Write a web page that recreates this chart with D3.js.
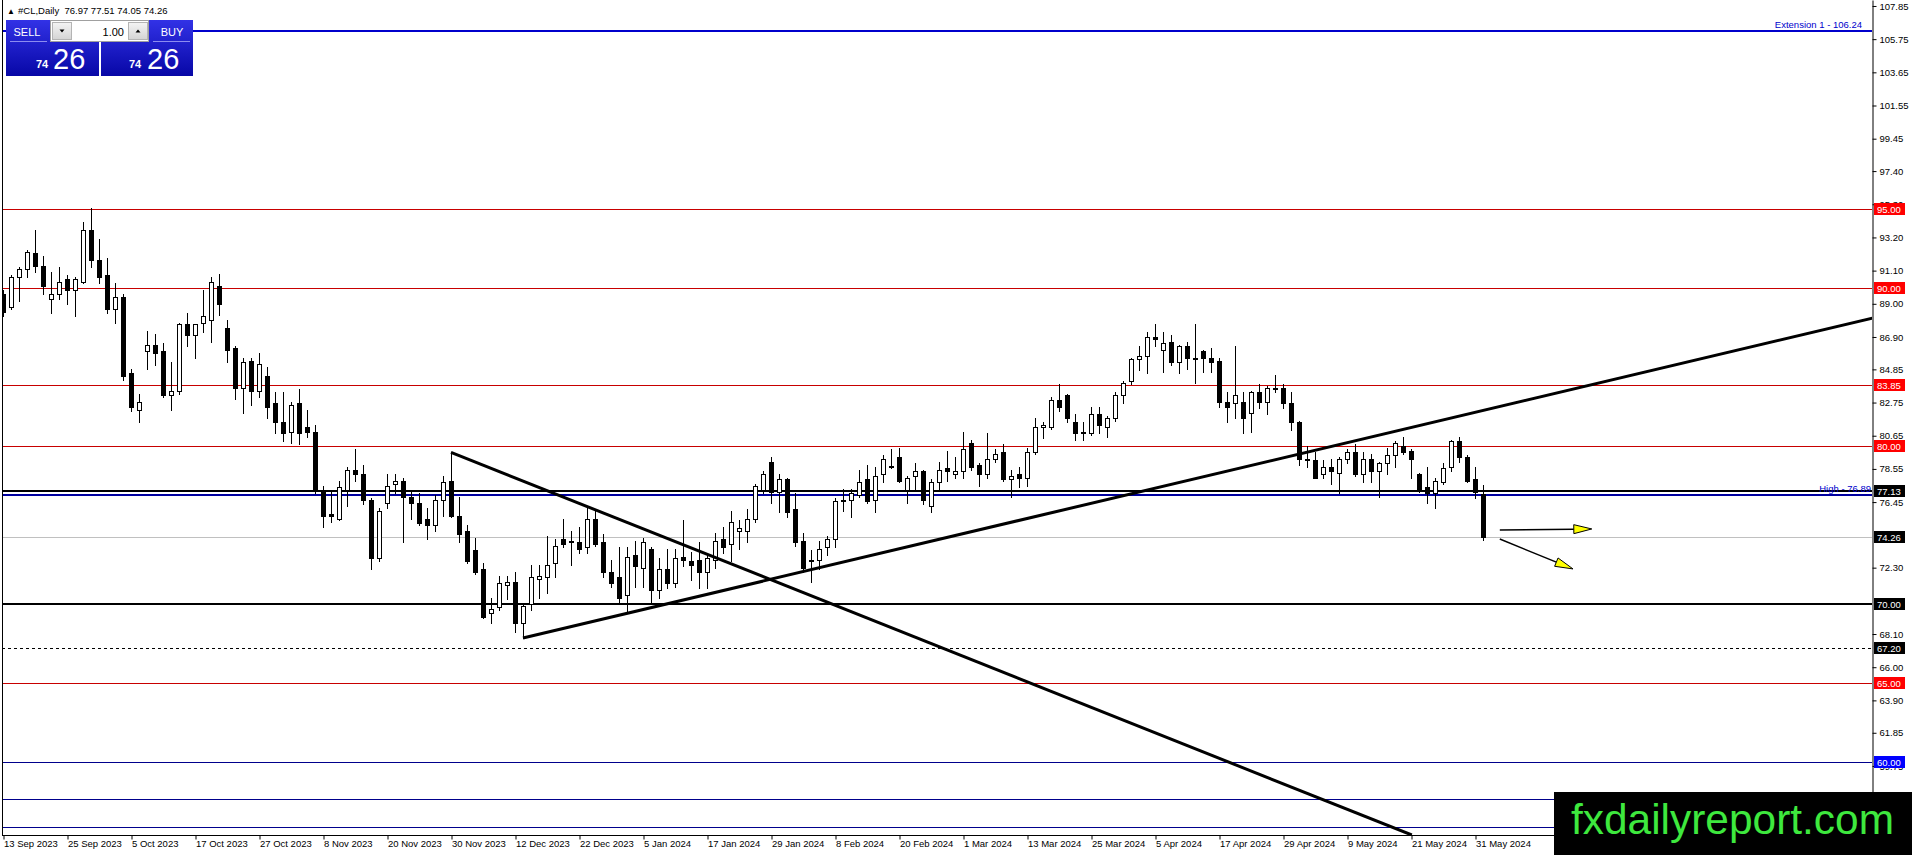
<!DOCTYPE html>
<html><head><meta charset="utf-8">
<script src="https://cdn.jsdelivr.net/npm/d3@7"></script>
<style>html,body{margin:0;padding:0;background:#fff;overflow:hidden}
text{font-family:"Liberation Sans",Arial,sans-serif}</style>
</head><body>
<svg id="c" width="1912" height="855"></svg>
<script>
// ---------------- DATA ----------------
const dates = ["2023-09-13","2023-09-14","2023-09-15","2023-09-18","2023-09-19","2023-09-20","2023-09-21","2023-09-22","2023-09-25","2023-09-26","2023-09-27","2023-09-28","2023-09-29","2023-10-02","2023-10-03","2023-10-04","2023-10-05","2023-10-06","2023-10-09","2023-10-10","2023-10-11","2023-10-12","2023-10-13","2023-10-16","2023-10-17","2023-10-18","2023-10-19","2023-10-20","2023-10-23","2023-10-24","2023-10-25","2023-10-26","2023-10-27","2023-10-30","2023-10-31","2023-11-01","2023-11-02","2023-11-03","2023-11-06","2023-11-07","2023-11-08","2023-11-09","2023-11-10","2023-11-13","2023-11-14","2023-11-15","2023-11-16","2023-11-17","2023-11-20","2023-11-21","2023-11-22","2023-11-23","2023-11-24","2023-11-27","2023-11-28","2023-11-29","2023-11-30","2023-12-01","2023-12-04","2023-12-05","2023-12-06","2023-12-07","2023-12-08","2023-12-11","2023-12-12","2023-12-13","2023-12-14","2023-12-15","2023-12-18","2023-12-19","2023-12-20","2023-12-21","2023-12-22","2023-12-26","2023-12-27","2023-12-28","2023-12-29","2024-01-02","2024-01-03","2024-01-04","2024-01-05","2024-01-08","2024-01-09","2024-01-10","2024-01-11","2024-01-12","2024-01-15","2024-01-16","2024-01-17","2024-01-18","2024-01-19","2024-01-22","2024-01-23","2024-01-24","2024-01-25","2024-01-26","2024-01-29","2024-01-30","2024-01-31","2024-02-01","2024-02-02","2024-02-05","2024-02-06","2024-02-07","2024-02-08","2024-02-09","2024-02-12","2024-02-13","2024-02-14","2024-02-15","2024-02-16","2024-02-19","2024-02-20","2024-02-21","2024-02-22","2024-02-23","2024-02-26","2024-02-27","2024-02-28","2024-02-29","2024-03-01","2024-03-04","2024-03-05","2024-03-06","2024-03-07","2024-03-08","2024-03-11","2024-03-12","2024-03-13","2024-03-14","2024-03-15","2024-03-18","2024-03-19","2024-03-20","2024-03-21","2024-03-22","2024-03-25","2024-03-26","2024-03-27","2024-03-28","2024-04-01","2024-04-02","2024-04-03","2024-04-04","2024-04-05","2024-04-08","2024-04-09","2024-04-10","2024-04-11","2024-04-12","2024-04-15","2024-04-16","2024-04-17","2024-04-18","2024-04-19","2024-04-22","2024-04-23","2024-04-24","2024-04-25","2024-04-26","2024-04-29","2024-04-30","2024-05-01","2024-05-02","2024-05-03","2024-05-06","2024-05-07","2024-05-08","2024-05-09","2024-05-10","2024-05-13","2024-05-14","2024-05-15","2024-05-16","2024-05-17","2024-05-20","2024-05-21","2024-05-22","2024-05-23","2024-05-24","2024-05-27","2024-05-28","2024-05-29","2024-05-30","2024-05-31","2024-06-03"];

const openP = [89.6,88.8,90.7,91.2,92.2,91.4,89.3,89.6,90.6,89.9,90.4,93.7,91.8,90.8,88.7,89.4,84.6,82.3,86.0,86.4,86.0,83.2,83.5,87.7,87.0,87.8,88.0,90.1,87.5,86.2,83.7,85.4,83.5,84.4,82.7,81.5,80.9,82.7,81.2,80.9,77.1,75.7,75.4,77.2,78.5,78.2,76.6,72.9,76.4,77.6,77.8,76.8,76.4,75.4,75.0,76.6,77.8,75.6,74.6,73.4,72.2,69.4,69.8,71.2,71.4,68.8,70.0,71.6,71.7,72.6,74.1,73.9,73.9,73.6,75.4,73.9,72.0,71.7,70.6,73.1,72.3,73.5,70.9,72.2,71.3,73.0,72.7,72.8,72.0,72.8,74.1,73.8,74.6,74.6,75.4,77.2,79.0,77.1,77.9,76.0,74.0,72.8,72.8,73.6,74.1,76.5,76.6,76.9,77.9,76.6,78.2,78.7,79.3,77.2,78.1,78.4,76.2,77.7,78.6,78.2,78.4,80.2,78.8,78.2,79.2,79.6,77.9,78.2,78.0,79.6,81.2,81.2,82.9,83.2,81.5,80.9,80.8,82.0,81.2,81.8,83.2,84.1,85.5,85.7,86.9,86.1,86.6,85.3,86.3,85.6,86.0,85.6,85.4,82.8,82.7,82.8,82.1,83.4,82.8,83.7,83.7,82.7,81.5,79.2,79.1,78.2,78.7,78.3,79.2,79.6,78.2,79.2,78.4,78.9,79.4,80.0,79.7,78.2,77.4,77.0,77.7,78.7,80.3,79.3,77.9,76.97];
const highP = [89.9,90.8,91.3,92.4,93.7,92.0,91.0,91.3,90.8,90.7,94.2,95.05,93.1,91.9,90.3,89.6,84.9,83.3,87.3,87.1,86.5,85.3,87.8,88.4,87.7,89.9,90.7,90.9,88.0,86.3,85.6,85.6,85.9,85.0,83.4,83.4,82.8,83.6,82.3,81.3,77.5,77.1,77.8,78.7,79.8,78.8,76.7,76.1,78.2,78.2,78.0,77.1,77.0,76.1,76.9,78.1,79.6,76.8,75.0,74.2,72.6,70.4,71.8,71.8,72.0,70.0,72.5,72.5,74.3,74.1,75.4,74.6,74.9,76.1,75.9,74.4,72.8,73.6,73.6,74.0,74.2,73.6,72.9,73.5,73.5,75.3,73.3,73.9,73.1,74.5,74.9,75.9,75.3,76.0,77.6,78.4,79.3,78.2,78.0,77.0,74.5,73.4,74.0,74.3,76.7,77.3,77.3,78.5,78.8,78.7,79.4,79.8,79.9,78.1,78.9,78.5,77.9,79.0,79.7,79.3,80.9,80.4,78.9,80.8,79.8,80.1,78.5,78.7,79.9,81.8,81.5,83.1,83.9,83.3,82.0,81.5,82.5,82.5,81.9,83.4,84.1,85.6,86.3,87.2,87.7,87.2,87.0,86.4,86.6,87.7,86.1,86.2,85.6,83.4,86.3,83.4,83.5,83.9,83.8,84.5,83.9,83.4,81.6,80.0,79.6,79.1,79.2,79.3,79.8,80.1,79.6,79.5,79.0,79.9,80.3,80.6,79.8,78.3,78.7,78.0,78.9,80.4,80.6,79.4,78.7,77.51];
const lowP = [88.2,88.7,89.2,90.7,91.0,89.6,88.4,89.3,89.0,88.2,90.3,91.3,90.3,88.4,87.8,84.2,82.2,81.5,84.9,85.1,83.1,82.3,83.3,86.3,85.6,87.2,86.6,88.3,85.3,83.0,82.1,82.6,83.1,81.8,80.8,80.3,80.2,80.1,80.6,77.0,74.9,75.2,75.3,76.2,77.8,76.3,72.2,72.7,76.1,77.0,73.9,75.4,75.0,74.1,74.6,75.6,75.5,73.9,72.6,71.9,69.1,68.8,69.6,70.3,68.2,67.85,69.6,70.4,70.7,71.7,73.6,72.5,73.2,73.2,73.7,71.7,71.1,70.1,69.4,71.1,71.1,70.1,70.4,71.0,71.1,72.4,71.5,71.0,71.0,72.3,73.2,72.7,73.5,73.9,75.2,77.0,76.4,75.8,75.5,73.7,72.0,71.4,72.2,73.1,73.6,75.9,75.5,76.8,76.4,75.8,77.7,78.6,77.7,76.4,77.2,76.3,75.8,77.2,77.8,78.0,78.0,78.5,77.5,78.0,79.0,77.8,76.8,77.4,77.5,79.5,80.5,81.1,82.2,81.5,80.4,80.4,80.7,80.8,80.6,81.6,82.7,83.9,84.8,84.6,86.3,84.7,85.1,84.6,84.9,84.0,84.7,84.7,82.5,81.5,81.8,80.8,80.9,82.4,82.0,83.4,82.4,81.0,78.8,78.7,77.95,78.0,77.6,77.0,78.9,78.1,77.7,77.7,76.8,78.2,78.7,79.5,78.0,77.1,76.4,76.1,77.6,78.4,79.0,77.7,76.7,74.05];
const closeP = [88.5,90.7,91.2,92.3,91.4,90.1,89.6,90.4,89.9,90.6,93.7,91.8,90.7,88.7,89.4,84.4,82.5,82.8,86.4,85.9,83.2,83.5,87.7,87.0,87.7,88.2,90.4,89.0,86.1,83.7,85.3,83.5,85.2,82.5,81.5,80.8,82.6,80.8,80.9,77.2,75.6,75.6,77.4,78.5,78.2,76.6,72.9,75.9,77.5,77.8,76.8,76.4,75.1,75.0,76.6,77.7,75.6,74.4,72.7,72.0,69.2,69.7,71.3,71.4,68.8,69.9,71.7,71.8,72.5,73.7,73.8,74.0,73.5,75.4,73.8,72.0,71.3,70.4,73.0,72.4,73.9,70.9,72.2,71.3,72.9,72.8,72.5,72.0,72.9,74.0,73.6,75.2,74.8,75.4,77.5,78.2,77.1,77.9,75.8,73.9,72.3,72.7,73.5,74.1,76.5,76.6,77.0,77.7,76.5,78.1,79.2,78.75,77.8,78.0,78.4,76.6,77.7,78.5,78.4,78.4,79.8,78.7,78.2,79.2,79.5,77.9,78.1,78.0,79.6,81.2,81.3,82.9,82.5,81.8,80.8,80.8,82.0,81.3,81.8,83.2,84.0,85.5,85.7,86.9,86.8,86.5,85.3,86.3,85.6,85.5,85.6,85.3,82.8,82.5,83.2,81.8,83.4,82.8,83.7,83.6,82.7,81.5,79.2,79.1,78.0,78.7,78.4,79.2,79.6,78.2,79.2,78.4,78.9,79.4,80.2,79.6,79.2,77.2,77.0,77.8,78.6,80.3,79.3,77.8,77.1,74.26];

const priceTicks = [107.85,105.75,103.65,101.55,99.45,97.40,95.30,93.20,91.10,89.00,86.90,84.85,82.75,80.65,78.55,76.45,72.30,68.10,66.00,63.90,61.85,59.75];
const redLevels = [95.00, 90.00, 83.85, 80.00, 65.00];
const blueLevels = [60.00, 57.66, 55.89];
const blackLevels = [77.13, 70.00];
const dashedLevels = [67.20];
const extensionLevel = 106.24;
const highLevel = 76.89;
const bidLevel = 74.26;
const downTrend = [[56, 79.6], [176.1, 55.38]];
const upTrend = [[65, 67.85], [185, 82.25]];
const arrows = [[[187.1, 74.68], [198.6, 74.75]], [[187.1, 74.11], [196.25, 72.22]]];
const symbolName = "#CL,Daily";
const lotSize = "1.00";

// ---------------- SCALES ----------------
const svg = d3.select("#c");
const plotL = 2, plotR = 1872, plotB = 835;
const n = dates.length;
const x = d3.scaleLinear().domain([0, n - 1]).range([3, 3 + 8 * (n - 1)]);
const y = d3.scaleLinear().domain([55.38, 108.228]).range([plotB, 0]);
const parse = d3.timeParse("%Y-%m-%d");
const fmtDate = d3.timeFormat("%-d %b %Y");
const f2 = d3.format(".2f");
const crisp = v => Math.round(v) + 0.5;

const defs = svg.append("defs");
defs.append("clipPath").attr("id", "plot").append("rect")
  .attr("x", plotL).attr("y", 0).attr("width", plotR - plotL).attr("height", plotB);
const gr = defs.append("linearGradient").attr("id", "bluegrad").attr("x1", 0).attr("y1", 0).attr("x2", 0).attr("y2", 1);
gr.append("stop").attr("offset", "0%").attr("stop-color", "#3232e6");
gr.append("stop").attr("offset", "100%").attr("stop-color", "#0707a6");
const gr2 = defs.append("linearGradient").attr("id", "graygrad").attr("x1", 0).attr("y1", 0).attr("x2", 0).attr("y2", 1);
gr2.append("stop").attr("offset", "0%").attr("stop-color", "#f4f4f4");
gr2.append("stop").attr("offset", "100%").attr("stop-color", "#d4d4d4");

const plot = svg.append("g").attr("clip-path", "url(#plot)");

// ---------------- LEVEL LINES ----------------
function hline(p, color, w, dash) {
  const yy = w % 2 ? crisp(y(p)) : Math.round(y(p));
  plot.append("line").attr("x1", plotL).attr("x2", plotR).attr("y1", yy).attr("y2", yy)
    .attr("stroke", color).attr("stroke-width", w).attr("stroke-dasharray", dash || null);
}
redLevels.forEach(p => hline(p, "#c80000", 1));
blueLevels.forEach(p => hline(p, "#00008c", 1));
hline(bidLevel, "#c0c0c0", 1);
dashedLevels.forEach(p => hline(p, "#000", 1, "3,3"));
hline(extensionLevel, "#0000cc", 2);
hline(highLevel, "#0000a0", 2);
blackLevels.forEach(p => hline(p, "#000", 2));

// level texts
plot.append("text").attr("x", 1862).attr("y", y(extensionLevel) - 3).attr("text-anchor", "end")
  .attr("font-size", "9.5px").attr("fill", "#0000cc").text("Extension 1 - " + f2(extensionLevel));
plot.append("text").attr("x", 1871).attr("y", y(highLevel) - 3).attr("text-anchor", "end")
  .attr("font-size", "9.5px").attr("fill", "#0000cc").text("High - " + f2(highLevel));

// ---------------- CANDLES ----------------
const idx = d3.range(n);
const cg = plot.append("g");
cg.selectAll("line.w").data(idx).join("line")
  .attr("x1", i => crisp(x(i))).attr("x2", i => crisp(x(i)))
  .attr("y1", i => Math.round(y(highP[i]))).attr("y2", i => Math.round(y(lowP[i])) + 1)
  .attr("stroke", "#000").attr("stroke-width", 1);
cg.selectAll("rect.b").data(idx).join("rect")
  .attr("x", i => Math.round(x(i)) - 1.5)
  .attr("y", i => Math.round(y(Math.max(openP[i], closeP[i]))) + 0.5)
  .attr("width", 4)
  .attr("height", i => Math.max(0, Math.round(y(Math.min(openP[i], closeP[i]))) - Math.round(y(Math.max(openP[i], closeP[i])))))
  .attr("fill", i => closeP[i] >= openP[i] ? "#fff" : "#000")
  .attr("stroke", "#000").attr("stroke-width", 1);

// ---------------- TRENDLINES ----------------
function ray(pts, extendTo) {
  const [[i1, p1], [i2, p2]] = pts;
  const slope = (p2 - p1) / (i2 - i1);
  const iEnd = extendTo;
  plot.append("line")
    .attr("x1", x(i1)).attr("y1", y(p1))
    .attr("x2", x(iEnd)).attr("y2", y(p1 + slope * (iEnd - i1)))
    .attr("stroke", "#000").attr("stroke-width", 3);
}
ray(downTrend, downTrend[1][0]);
ray(upTrend, 260);

// ---------------- ARROWS ----------------
arrows.forEach(([[i1, p1], [i2, p2]]) => {
  const X1 = x(i1), Y1 = y(p1), X2 = x(i2), Y2 = y(p2);
  const dx = X2 - X1, dy = Y2 - Y1, L = Math.hypot(dx, dy);
  const ux = dx / L, uy = dy / L, nx = -uy, ny = ux;
  const bx = X2 - ux * 18, by = Y2 - uy * 18;
  plot.append("line").attr("x1", X1).attr("y1", Y1).attr("x2", bx).attr("y2", by)
    .attr("stroke", "#000").attr("stroke-width", 1.5);
  plot.append("path")
    .attr("d", `M${X2},${Y2}L${bx + nx * 4.5},${by + ny * 4.5}L${bx - nx * 4.5},${by - ny * 4.5}Z`)
    .attr("fill", "#ffff00").attr("stroke", "#000").attr("stroke-width", 1);
});

// ---------------- AXES ----------------
const yAxis = svg.append("g").attr("transform", `translate(${plotR + 0.5},0)`)
  .call(d3.axisRight(y).tickValues(priceTicks).tickSize(4).tickSizeOuter(0).tickPadding(3).tickFormat(f2));
yAxis.select(".domain").attr("stroke", "#000");
yAxis.selectAll(".tick text").attr("font-size", "9.5px").attr("font-family", "Liberation Sans, Arial").attr("fill", "#000");
yAxis.selectAll(".tick line").attr("stroke", "#000");

const xAxis = svg.append("g").attr("transform", `translate(0.5,${plotB + 0.5})`)
  .call(d3.axisBottom(x).tickValues(d3.range(0, n, 8)).tickSize(4).tickSizeOuter(0)
    .tickFormat(i => fmtDate(parse(dates[i]))));
xAxis.select(".domain").remove();
xAxis.selectAll(".tick text").attr("text-anchor", "start").attr("x", 0).attr("dy", "0")
  .attr("y", 11.5).attr("font-size", "9.5px").attr("font-family", "Liberation Sans, Arial").attr("fill", "#000");
xAxis.selectAll(".tick line").attr("stroke", "#000");
svg.append("line").attr("x1", plotL).attr("x2", plotR).attr("y1", plotB + 0.5).attr("y2", plotB + 0.5).attr("stroke", "#000");
svg.append("line").attr("x1", plotL + 0.5).attr("x2", plotL + 0.5).attr("y1", 0).attr("y2", plotB).attr("stroke", "#000");

// ---------------- PRICE LABEL BOXES ----------------
function priceBox(p, bg) {
  const yy = Math.round(y(p));
  const g = svg.append("g");
  g.append("rect").attr("x", plotR + 2).attr("y", yy - 6).attr("width", 31).attr("height", 12).attr("fill", bg);
  g.append("text").attr("x", plotR + 5).attr("y", yy + 3.5).attr("font-size", "9.5px").attr("fill", "#fff").text(f2(p));
}
redLevels.forEach(p => priceBox(p, "#ff0000"));
priceBox(blackLevels[0], "#000");
priceBox(bidLevel, "#000");
priceBox(blackLevels[1], "#000");
dashedLevels.forEach(p => priceBox(p, "#000"));
priceBox(blueLevels[0], "#0000ff");

// ---------------- HEADER ----------------
const last = n - 1;
svg.append("text").attr("x", 7).attr("y", 14).attr("font-size", "8px").attr("fill", "#000").text("▲");
svg.append("text").attr("x", 18).attr("y", 14).attr("font-size", "9.5px").attr("fill", "#000")
  .attr("xml:space", "preserve")
  .text(`${symbolName}  ${f2(openP[last])} ${f2(highP[last])} ${f2(lowP[last])} ${f2(closeP[last])}`);

// ---------------- TRADE PANEL ----------------
const panel = svg.append("g");
const bidStr = f2(closeP[last]);
const big = bidStr.split(".")[0], small = bidStr.split(".")[1];
panel.append("path").attr("d", "M6,20H50V42H99V76H6Z").attr("fill", "url(#bluegrad)");
panel.append("path").attr("d", "M149,20H193V76H101V42H149Z").attr("fill", "url(#bluegrad)");
panel.append("text").attr("x", 27).attr("y", 36).attr("text-anchor", "middle").attr("font-size", "11px").attr("fill", "#fff").text("SELL");
panel.append("text").attr("x", 172).attr("y", 36).attr("text-anchor", "middle").attr("font-size", "11px").attr("fill", "#fff").text("BUY");
panel.append("line").attr("x1", 10).attr("x2", 47).attr("y1", 41.5).attr("y2", 41.5).attr("stroke", "#8c8cf0");
panel.append("line").attr("x1", 153).attr("x2", 190).attr("y1", 41.5).attr("y2", 41.5).attr("stroke", "#8c8cf0");
[[36, 53], [129, 147]].forEach(([sx, bx]) => {
  panel.append("text").attr("x", sx).attr("y", 68).attr("font-size", "11px").attr("font-weight", "bold").attr("fill", "#fff").text(big);
  panel.append("text").attr("x", bx).attr("y", 69).attr("font-size", "29px").attr("fill", "#fff").text(small);
});
panel.append("rect").attr("x", 50.5).attr("y", 20.5).attr("width", 98).attr("height", 21).attr("fill", "#fff").attr("stroke", "#a0a0a0");
panel.append("rect").attr("x", 52.5).attr("y", 22.5).attr("width", 19).attr("height", 17).attr("fill", "url(#graygrad)").attr("stroke", "#b4b4b4");
panel.append("rect").attr("x", 128.5).attr("y", 22.5).attr("width", 19).attr("height", 17).attr("fill", "url(#graygrad)").attr("stroke", "#b4b4b4");
panel.append("path").attr("d", "M59.5,29.5h5l-2.5,3z").attr("fill", "#000");
panel.append("path").attr("d", "M135.5,32.5h5l-2.5,-3z").attr("fill", "#000");
panel.append("text").attr("x", 124).attr("y", 36).attr("text-anchor", "end").attr("font-size", "11px").attr("fill", "#000").text(lotSize);

// ---------------- WATERMARK ----------------
svg.append("rect").attr("x", 1554).attr("y", 792).attr("width", 358).attr("height", 63).attr("fill", "#000");
svg.append("text").attr("x", 1571).attr("y", 834).attr("font-size", "42px").attr("fill", "#3ee83e")
  .attr("textLength", 323).attr("lengthAdjust", "spacingAndGlyphs").text("fxdailyreport.com");
</script>
</body></html>
